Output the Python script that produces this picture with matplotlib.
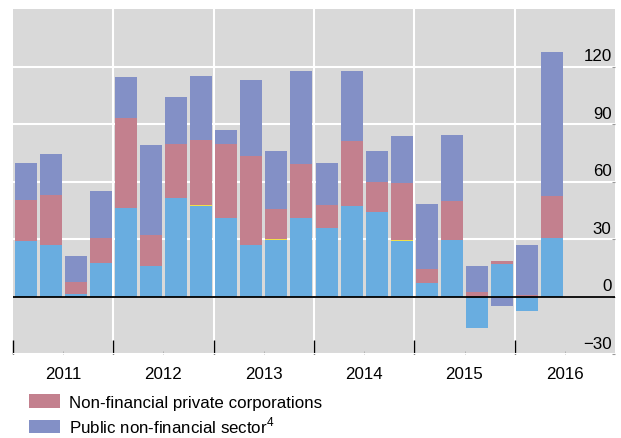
import numpy as np
import matplotlib
matplotlib.use("Agg")
import matplotlib.pyplot as plt
from matplotlib.patches import Patch

plt.rcParams['font.family'] = ['Liberation Sans', 'DejaVu Sans']
plt.rcParams['mathtext.fontset'] = 'custom'
plt.rcParams['mathtext.rm'] = 'Liberation Sans'

# Quarterly data, 2011 Q1 - 2016 Q2
years = ["2011", "2012", "2013", "2014", "2015", "2016"]
households = [29.2, 27.1, 1.2, 17.7, 46.3, 15.7, 51.5, 47.0, 41.0, 27.1, 29.5,
              41.0, 35.5, 47.0, 44.3, 28.7, 6.8, 29.7, -16.2, 16.7, -7.8, 30.3]
other = [-0.4, -0.4, 0.0, 0.0, 0.0, 0.0, 0.0, 0.6, -0.4, 0.0, 0.6,
         0.0, 0.0, 0.0, 0.0, 0.6, 0.0, 0.0, 0.0, 0.0, 0.0, 0.0]
private_corp = [21.2, 26.1, 6.5, 12.9, 46.7, 16.6, 28.3, 33.8, 38.8, 46.1, 15.8,
                27.9, 12.5, 33.9, 15.3, 29.7, 7.8, 19.9, 2.1, 1.6, 1.0, 21.9]
public_sector = [19.0, 21.4, 13.2, 24.2, 21.3, 46.5, 24.5, 33.4, 7.3, 40.0, 29.8,
                 48.5, 21.9, 36.5, 16.1, 24.5, 33.9, 34.9, 13.6, -5.2, 26.1, 75.6]

series = [
    (households, "#69ade0", None),
    (other, "#f2e04a", None),
    (private_corp, "#c3808e", "Non-financial private corporations"),
    (public_sector, "#8390c6", "Public non-financial sector$^{4}$"),
]

fs = 12.2

fig = plt.figure(figsize=(6.21, 4.39), dpi=100)
ax = fig.add_axes([13 / 621, 1 - 355 / 439, 602 / 621, 345 / 439])
ax.set_facecolor("#d9d9d9")

x = np.arange(len(households))
pos_base = np.zeros(len(x))
neg_base = np.zeros(len(x))
for vals, color, label in series:
    v = np.array(vals)
    base = np.where(v >= 0, pos_base, neg_base)
    ax.bar(x, v, bottom=base, width=0.88, color=color, linewidth=0, zorder=3)
    pos_base = pos_base + np.where(v >= 0, v, 0)
    neg_base = neg_base + np.where(v < 0, v, 0)

ax.axhline(0, color="black", lw=1.3, zorder=4)

ax.set_xlim(-0.5, 23.5)
ax.set_ylim(-30, 150)

# year boundaries and year labels
bounds = np.arange(-0.5, 24, 4)
ax.set_xticks(bounds[:-1])
ax.set_xticklabels([])
ax.set_xticks(bounds[:-1] + 2, minor=True)
ax.set_xticklabels(years, minor=True, fontsize=fs)
ax.tick_params(axis="x", which="major", direction="in", length=10, width=1, color="black")
ax.tick_params(axis="x", which="minor", direction="in", length=2, width=0.6, color="#aaaaaa", pad=9)
for b in bounds[1:-1]:
    ax.axvline(b, color="white", lw=1.5, zorder=1)

yticks = [-30, 0, 30, 60, 90, 120]
ax.set_yticks(yticks)
ax.yaxis.tick_right()
ax.tick_params(axis="y", direction="in", length=2, color="#999999", labelright=False)
ax.grid(axis="y", color="white", lw=1.5, zorder=1)
for v in yticks:
    lab = str(v).replace("-", "\u2212")
    ax.annotate(lab, xy=(1, v), xycoords=("axes fraction", "data"),
                xytext=(-2.5, 4.5), textcoords="offset points",
                ha="right", va="baseline", fontsize=fs, zorder=5)

for s in ax.spines.values():
    s.set_visible(False)

handles = [Patch(facecolor=c, label=l) for _, c, l in series if l]
fig.legend(handles=handles, loc="upper left", bbox_to_anchor=(29 / 621, 1 - 395 / 439),
           frameon=False, fontsize=fs, handlelength=1.8, handleheight=0.85,
           handletextpad=0.55, labelspacing=0.3, borderpad=0, borderaxespad=0)

fig.savefig("out.png", dpi=100)
